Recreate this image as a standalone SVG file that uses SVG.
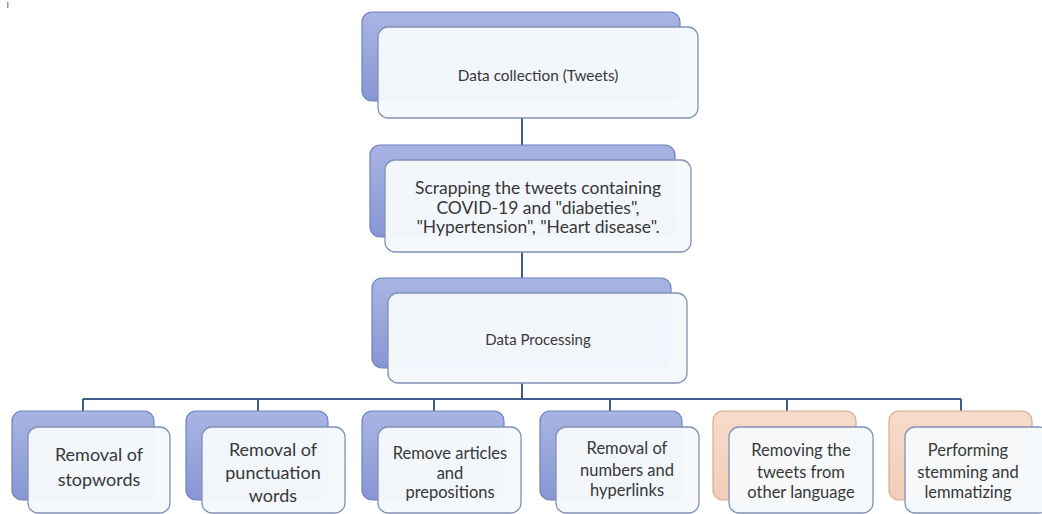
<svg xmlns="http://www.w3.org/2000/svg" width="1042" height="514" viewBox="0 0 1042 514">
<defs>
<linearGradient id="gb" x1="0" y1="0" x2="0" y2="1">
<stop offset="0" stop-color="#a8b5e3"/>
<stop offset="1" stop-color="#8796d4"/>
</linearGradient>
<linearGradient id="go" x1="0" y1="0" x2="0" y2="1">
<stop offset="0" stop-color="#f7dccb"/>
<stop offset="1" stop-color="#f1cdb8"/>
</linearGradient>
<style>
.bb{fill:url(#gb);stroke:#6f80c0;stroke-width:1.2}
.bo{fill:url(#go);stroke:#d8ab90;stroke-width:1.2}
.fr{fill:#f6f9fc;fill-opacity:0.97;stroke:#8291b4;stroke-width:1.3}
.t{font-family:Lato,"Open Sans","Liberation Sans",sans-serif;fill:#383838;text-anchor:middle}
.c{fill:none;stroke:#3d5d8e;stroke-width:2}
</style>
</defs>
<rect x="7" y="2" width="1.5" height="6" fill="#999"/>
<g id="connectors">
<path class="c" d="M522 118V160M522 252V293M522 383V399M83 399H961M83 399V411M258 399V411M434 399V411M610 399V411M787 399V411M961 399V411"/>
</g>
<g id="n1">
<rect class="bb" x="362" y="12" width="318" height="89" rx="10"/>
<rect class="fr" x="378" y="27" width="320" height="91" rx="10"/>
<text class="t" x="538" y="81" font-size="15.3">Data collection (Tweets)</text>
</g>
<g id="n2">
<rect class="bb" x="370" y="145" width="305" height="92" rx="10"/>
<rect class="fr" x="385" y="160" width="306" height="92" rx="10"/>
<text class="t" font-size="17.5"><tspan x="538" y="194">Scrapping the tweets containing</tspan><tspan x="538" y="213.5">COVID-19 and "diabeties",</tspan><tspan x="538" y="233">"Hypertension", "Heart disease".</tspan></text>
</g>
<g id="n3">
<rect class="bb" x="372" y="278" width="299" height="90" rx="10"/>
<rect class="fr" x="388" y="293" width="299" height="90" rx="10"/>
<text class="t" x="538" y="345" font-size="15">Data Processing</text>
</g>
<g id="b1">
<rect class="bb" x="12" y="411" width="142" height="89" rx="10"/>
<rect class="fr" x="28" y="427" width="142" height="86" rx="10"/>
<text class="t" font-size="18"><tspan x="99" y="461">Removal of</tspan><tspan x="99" y="486">stopwords</tspan></text>
</g>
<g id="b2">
<rect class="bb" x="186" y="411" width="142" height="89" rx="10"/>
<rect class="fr" x="202" y="427" width="143" height="86" rx="10"/>
<text class="t" font-size="18"><tspan x="273" y="456">Removal of</tspan><tspan x="273" y="479">punctuation</tspan><tspan x="273" y="502">words</tspan></text>
</g>
<g id="b3">
<rect class="bb" x="362" y="411" width="142" height="89" rx="10"/>
<rect class="fr" x="378" y="427" width="143" height="86" rx="10"/>
<text class="t" font-size="16.5"><tspan x="450" y="459">Remove articles</tspan><tspan x="450" y="478.5">and</tspan><tspan x="450" y="498">prepositions</tspan></text>
</g>
<g id="b4">
<rect class="bb" x="540" y="411" width="142" height="89" rx="10"/>
<rect class="fr" x="556" y="427" width="143" height="86" rx="10"/>
<text class="t" font-size="16.5"><tspan x="627" y="454">Removal of</tspan><tspan x="627" y="476">numbers and</tspan><tspan x="627" y="496">hyperlinks</tspan></text>
</g>
<g id="b5">
<rect class="bo" x="713" y="411" width="143" height="89" rx="10"/>
<rect class="fr" x="729" y="427" width="144" height="86" rx="10"/>
<text class="t" font-size="16.5"><tspan x="801" y="456">Removing the</tspan><tspan x="801" y="477.5">tweets from</tspan><tspan x="801" y="498">other language</tspan></text>
</g>
<g id="b6">
<rect class="bo" x="889" y="411" width="143" height="89" rx="10"/>
<rect class="fr" x="905" y="427" width="144" height="86" rx="10"/>
<text class="t" font-size="16.5"><tspan x="968" y="456">Performing</tspan><tspan x="968" y="477.5">stemming and</tspan><tspan x="968" y="498">lemmatizing</tspan></text>
</g>
</svg>
